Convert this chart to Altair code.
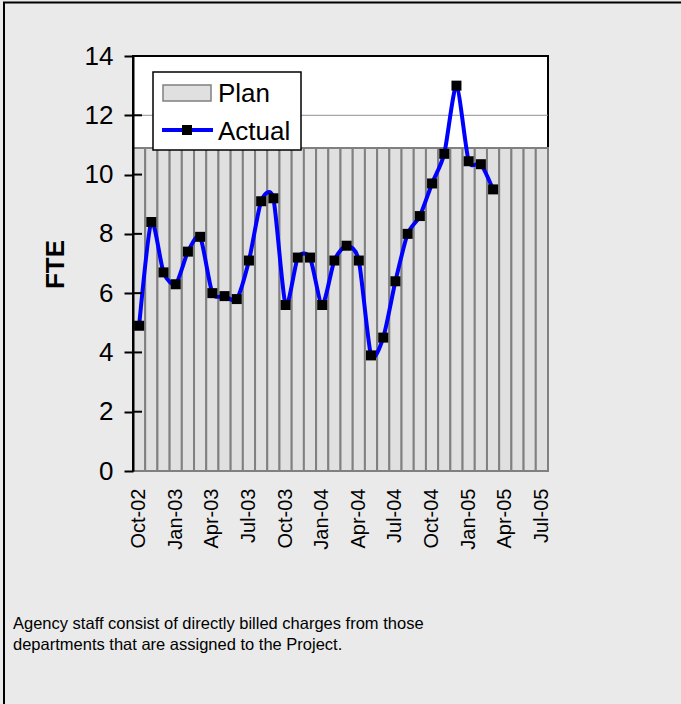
import altair as alt
import pandas as pd

months = ["Oct-02", "Nov-02", "Dec-02", "Jan-03", "Feb-03", "Mar-03", "Apr-03", "May-03",
          "Jun-03", "Jul-03", "Aug-03", "Sep-03", "Oct-03", "Nov-03", "Dec-03", "Jan-04",
          "Feb-04", "Mar-04", "Apr-04", "May-04", "Jun-04", "Jul-04", "Aug-04", "Sep-04",
          "Oct-04", "Nov-04", "Dec-04", "Jan-05", "Feb-05", "Mar-05", "Apr-05", "May-05",
          "Jun-05", "Jul-05"]
plan = [10.9, 10.9, 10.9, 10.9, 10.9, 10.9, 10.9, 10.9, 10.9, 10.9, 10.9, 10.9,
        10.9, 10.9, 10.9, 10.9, 10.9, 10.9, 10.9, 10.9, 10.9, 10.9, 10.9, 10.9,
        10.9, 10.9, 10.9, 10.9, 10.9, 10.9, 10.9, 10.9, 10.9, 10.9]
actual_months = months[:30]
actual = [4.9, 8.4, 6.7, 6.3, 7.4, 7.9, 6.0, 5.9, 5.8, 7.1, 9.1, 9.2,
          5.6, 7.2, 7.2, 5.6, 7.1, 7.6, 7.1, 3.9, 4.5, 6.4, 8.0, 8.6,
          9.7, 10.7, 13.0, 10.45, 10.35, 9.5]
y_ticks = [0, 2, 4, 6, 8, 10, 12, 14]
x_tick_labels = ["Oct-02", "Jan-03", "Apr-03", "Jul-03", "Oct-03", "Jan-04",
                 "Apr-04", "Jul-04", "Oct-04", "Jan-05", "Apr-05", "Jul-05"]
series_names = ["Plan", "Actual"]
y_title = "FTE"
footnote = ["Agency staff consist of directly billed charges from those",
            "departments that are assigned to the Project."]

FONT = "Liberation Sans, Arial, sans-serif"

df_plan = pd.DataFrame({"month": months, "plan": plan})
df_act = pd.DataFrame({"month": actual_months, "actual": actual})
df_ticks = pd.DataFrame({"v": y_ticks})
one = pd.DataFrame({"a": [0]})

x_enc = alt.X("month:N", sort=months,
              scale=alt.Scale(domain=months, paddingInner=0, paddingOuter=0),
              axis=alt.Axis(title=None, values=x_tick_labels, labelAngle=270,
                            labelFontSize=20, labelFont=FONT, labelColor="black",
                            ticks=False, tickSize=0, domain=False, labelPadding=17,
                            grid=False))
y_scale = alt.Scale(domain=[0, 14], nice=False, zero=True)
y_axis = alt.Axis(title=y_title, values=y_ticks, labelFontSize=26, labelFont=FONT,
                  labelColor="black", domainColor="black", domainWidth=2,
                  tickColor="black", tickWidth=2, tickSize=9, labelPadding=11,
                  grid=False, zindex=1,
                  titleFont=FONT, titleFontSize=26, titleFontWeight="bold",
                  titleColor="black", titleX=-78, titleY=208, titleAngle=270,
                  titleAlign="center", titleBaseline="middle")

grid = alt.Chart(df_ticks).mark_rule(color="#909090", strokeWidth=1).encode(
    y=alt.Y("v:Q", scale=y_scale, axis=y_axis)
).transform_filter("datum.v > 0 && datum.v < 14")

bars = alt.Chart(df_plan).mark_bar(fill="#E0E0E0", stroke="#808080", strokeWidth=2).encode(
    x=x_enc,
    y=alt.Y("plan:Q", scale=y_scale, axis=y_axis)
)

line = alt.Chart(df_act).mark_line(color="#0000FF", strokeWidth=4, interpolate="cardinal",
                                   tension=0.3).encode(
    x=alt.X("month:N", sort=months), y=alt.Y("actual:Q", scale=y_scale, axis=y_axis)
)
pts = alt.Chart(df_act).mark_point(shape="square", filled=True, color="black",
                                   size=100, opacity=1).encode(
    x=alt.X("month:N", sort=months), y=alt.Y("actual:Q", scale=y_scale, axis=y_axis)
)

inner_ticks = alt.Chart(df_ticks).mark_rule(color="black", strokeWidth=2).encode(
    y=alt.Y("v:Q", scale=y_scale, axis=y_axis), x=alt.value(-1), x2=alt.value(9)
).transform_filter("datum.v > 0")

axis_line = alt.Chart(one).mark_rule(color="black", strokeWidth=2).encode(
    x=alt.value(0), y=alt.value(0), y2=alt.value(415))

# legend
leg_box = alt.Chart(one).mark_rect(fill="white", stroke="black", strokeWidth=1.5).encode(
    x=alt.value(20), x2=alt.value(168), y=alt.value(16), y2=alt.value(94))
leg_plan = alt.Chart(one).mark_rect(fill="#E0E0E0", stroke="#808080", strokeWidth=1.5).encode(
    x=alt.value(30), x2=alt.value(78), y=alt.value(29), y2=alt.value(45))
leg_line = alt.Chart(one).mark_rule(color="#0000FF", strokeWidth=4).encode(
    x=alt.value(29), x2=alt.value(80), y=alt.value(74))
leg_pt = alt.Chart(one).mark_point(shape="square", filled=True, color="black",
                                   size=100, opacity=1).encode(
    x=alt.value(54), y=alt.value(74))
leg_t1 = alt.Chart(one).mark_text(align="left", baseline="middle", fontSize=26,
                                  font=FONT, color="black").encode(
    x=alt.value(85), y=alt.value(38), text=alt.value(series_names[0]))
leg_t2 = alt.Chart(one).mark_text(align="left", baseline="middle", fontSize=26,
                                  font=FONT, color="black").encode(
    x=alt.value(85), y=alt.value(76), text=alt.value(series_names[1]))

# outer frame and footnote
frame_left = alt.Chart(one).mark_rule(color="black", strokeWidth=2).encode(
    x=alt.value(-129), y=alt.value(-54), y2=alt.value(660))
frame_top = alt.Chart(one).mark_rule(color="black", strokeWidth=2).encode(
    x=alt.value(-130), x2=alt.value(560), y=alt.value(-53.5))
note = alt.Chart(one).mark_text(align="left", baseline="alphabetic", fontSize=16.5,
                                font=FONT, color="black", lineHeight=21).encode(
    x=alt.value(-120), y=alt.value(573), text=alt.value(footnote))

chart = alt.layer(grid, bars, line, pts, inner_ticks, axis_line, leg_box, leg_plan, leg_line,
                  leg_pt, leg_t1, leg_t2, frame_left, frame_top, note).properties(
    width=415, height=415, autosize="none",
    padding={"left": 133, "top": 56, "right": 133, "bottom": 233}
).configure(background="#EAEAEA").configure_view(
    fill="white", stroke="black", strokeWidth=2
)

chart.save("out.html", embed_options={"renderer": "svg", "actions": False})
